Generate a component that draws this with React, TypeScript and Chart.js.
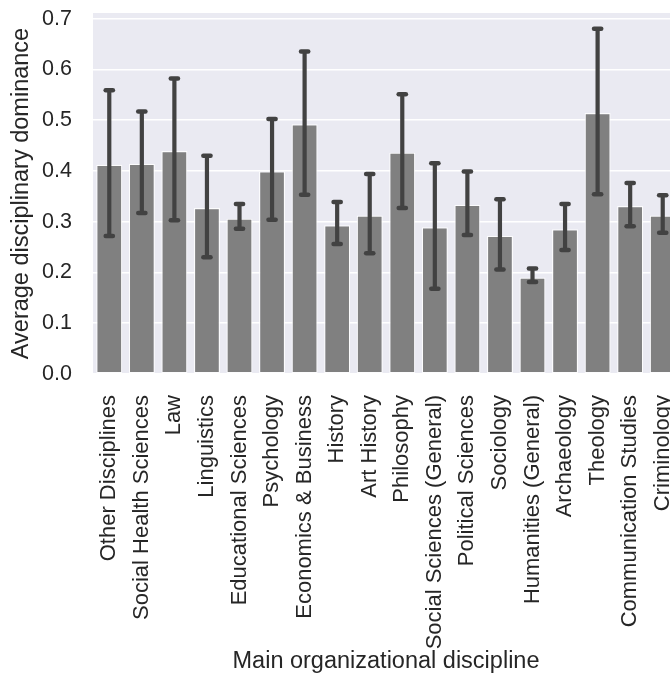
import React, { useEffect, useRef } from "react";
import { Chart, registerables } from "chart.js";

Chart.register(...registerables);

const categories = [
  "Other Disciplines",
  "Social Health Sciences",
  "Law",
  "Linguistics",
  "Educational Sciences",
  "Psychology",
  "Economics & Business",
  "History",
  "Art History",
  "Philosophy",
  "Social Sciences (General)",
  "Political Sciences",
  "Sociology",
  "Humanities (General)",
  "Archaeology",
  "Theology",
  "Communication Studies",
  "Criminology",
];

const meanValues = [0.412, 0.414, 0.439, 0.327, 0.306, 0.399, 0.492, 0.293, 0.312, 0.436, 0.289, 0.333, 0.272, 0.19, 0.285, 0.514, 0.331, 0.312];
const errorHigh = [0.559, 0.517, 0.582, 0.43, 0.335, 0.502, 0.635, 0.339, 0.394, 0.551, 0.415, 0.399, 0.344, 0.208, 0.335, 0.68, 0.376, 0.352];
const errorLow = [0.272, 0.317, 0.303, 0.23, 0.286, 0.304, 0.353, 0.256, 0.238, 0.327, 0.168, 0.274, 0.206, 0.181, 0.244, 0.354, 0.291, 0.278];

const yTicks = [0, 0.1, 0.2, 0.3, 0.4, 0.5, 0.6, 0.7];
const yMax = 0.711;

const FONT = "'Liberation Sans', Arial, Helvetica, sans-serif";
const TEXT = "#262626";

const bgPlugin = {
  id: "plotBg",
  beforeDraw(chart: any) {
    const { ctx, chartArea } = chart;
    ctx.save();
    ctx.fillStyle = "#EAEAF2";
    ctx.fillRect(chartArea.left, chartArea.top, chartArea.right - chartArea.left, chartArea.bottom - chartArea.top);
    ctx.restore();
  },
};

const errorBarPlugin = {
  id: "errorBars",
  afterDatasetsDraw(chart: any) {
    const { ctx } = chart;
    const xs = chart.scales.x;
    const ys = chart.scales.y;
    ctx.save();
    ctx.strokeStyle = "#424242";
    ctx.lineWidth = 4.2;
    ctx.lineCap = "butt";
    categories.forEach((_, i) => {
      const x = xs.getPixelForValue(i);
      const yTop = ys.getPixelForValue(errorHigh[i]);
      const yBot = ys.getPixelForValue(errorLow[i]);
      ctx.beginPath();
      ctx.moveTo(x, yTop);
      ctx.lineTo(x, yBot);
      ctx.stroke();
    });
    ctx.lineCap = "round";
    ctx.lineWidth = 4.5;
    const half = 3.6;
    categories.forEach((_, i) => {
      const x = xs.getPixelForValue(i);
      [errorHigh[i], errorLow[i]].forEach((v) => {
        const y = ys.getPixelForValue(v);
        ctx.beginPath();
        ctx.moveTo(x - half, y);
        ctx.lineTo(x + half, y);
        ctx.stroke();
      });
    });
    ctx.restore();
  },
};

export default function App() {
  const ref = useRef<HTMLCanvasElement>(null);

  useEffect(() => {
    if (!ref.current) return;
    const chart = new Chart(ref.current, {
      type: "bar",
      data: {
        labels: categories,
        datasets: [
          {
            data: meanValues,
            backgroundColor: "#808080",
            borderColor: "rgba(255,255,255,0.85)",
            borderWidth: 1.2,
            borderSkipped: false,
            barPercentage: 0.8,
            categoryPercentage: 1,
          },
        ],
      },
      options: {
        responsive: false,
        animation: false,
        devicePixelRatio: 1,
        layout: { padding: { left: 7, top: 13, right: 1, bottom: 1 } },
        plugins: {
          legend: { display: false },
          tooltip: { enabled: false },
        },
        scales: {
          x: {
            offset: true,
            grid: { display: false, drawTicks: false },
            border: { display: false },
            ticks: {
              autoSkip: false,
              minRotation: 90,
              maxRotation: 90,
              padding: 21,
              color: TEXT,
              font: { family: FONT, size: 22 },
            },
            title: {
              display: true,
              text: "Main organizational discipline",
              color: TEXT,
              font: { family: FONT, size: 23.5 },
              padding: 0,
            },
            afterFit(scale: any) {
              scale.height = 302;
              scale.paddingLeft = 0;
              scale.paddingRight = 0;
            },
          },
          y: {
            min: 0,
            max: yMax,
            grid: { color: "#FFFFFF", lineWidth: 1.6, drawTicks: false },
            border: { display: false },
            afterBuildTicks(scale: any) {
              scale.ticks = yTicks.map((v) => ({ value: v }));
            },
            ticks: {
              padding: 21,
              color: TEXT,
              font: { family: FONT, size: 21.5 },
              callback: (v: any) => Number(v).toFixed(1),
            },
            title: {
              display: true,
              text: "Average disciplinary dominance",
              color: TEXT,
              font: { family: FONT, size: 23.5 },
              padding: 0,
            },
            afterFit(scale: any) {
              scale.width = 86;
              scale.paddingTop = 0;
              scale.paddingBottom = 0;
            },
          },
        },
      },
      plugins: [bgPlugin, errorBarPlugin],
    } as any);
    return () => chart.destroy();
  }, []);

  return (
    <div style={{ position: "absolute", left: 0, top: 0, width: 670, height: 677, overflow: "hidden", background: "#fff" }}>
      <canvas ref={ref} width={680} height={677} style={{ display: "block", width: 680, height: 677 }} />
    </div>
  );
}
